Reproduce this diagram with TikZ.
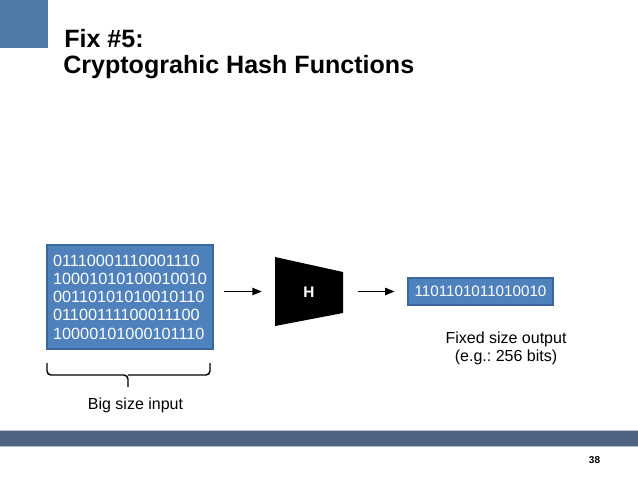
\documentclass[tikz,border=0pt]{standalone}
\usepackage{fontspec}
\setmainfont{Liberation Sans}
\frenchspacing
\usetikzlibrary{arrows.meta}
\definecolor{accent}{HTML}{4F7AA8}
\definecolor{boxblue}{HTML}{4F81BD}
\definecolor{boxedge}{HTML}{3C679A}
\definecolor{band}{HTML}{4E6482}
\definecolor{bandedge}{HTML}{B4BFCD}
\tikzset{
  bitbox/.style={draw=boxedge, line width=0.8pt, fill=boxblue, text=white, font=\fontsize{12.2}{13.7}\selectfont},
  plain/.style={font=\fontsize{12}{13.4}\selectfont, align=center, inner sep=0pt},
  titletext/.style={font=\fontsize{18.8}{22}\selectfont\bfseries, anchor=base west, inner sep=0pt},
  arr/.style={-{Triangle[length=7pt,width=5.5pt]}, line width=1.1pt},
}
\begin{document}
\begin{tikzpicture}[x=0.75pt, y=-0.75pt]
\useasboundingbox (0,0) rectangle (638,479);
\fill[white] (0,0) rectangle (638,479);
% corner square
\fill[accent] (0,0) rectangle (48,48);
% title
\node[titletext] (t1) at (64,47) {Fix \#5:};
\node[titletext] (t2) at (63,73) {Cryptograhic Hash Functions};
% input box
\node[bitbox, minimum width=166*0.75pt, minimum height=104*0.75pt, align=left, inner sep=0pt] (in) at (130,297) {01110001110001110\\10001010100010010\\00110101010010110\\01100111100011100\\10000101000101110};
% brace
\draw[line width=1.1pt, rounded corners=3pt] (47,363) -- (47,375) -- (128,375) -- (128,387);
\draw[line width=1.1pt, rounded corners=3pt] (210,363) -- (210,375) -- (128,375);
\node[plain] (big) at (135.5,405) {Big size input};
% hash function
\node[minimum width=68*0.75pt, minimum height=69*0.75pt, inner sep=0pt] (hash) at (309,291.5) {};
\fill[black] (275,257) -- (343,272) -- (343,313) -- (275,326) -- cycle;
\node[text=white, font=\fontsize{11.5}{13}\selectfont\bfseries] (hl) at (309,292) {H};
% output box
\node[bitbox, minimum width=145*0.75pt, minimum height=27*0.75pt, inner sep=0pt, font=\fontsize{11.4}{13}\selectfont] (out) at (480.5,291.5) {1101101011010010};
\node[plain] (fixed) at (506,348) {Fixed size output\\(e.g.: 256 bits)};
% arrows
\draw[arr, shorten <=7.5pt, shorten >=9.75pt] (in.east |- hash.west) -- (hash.west);
\draw[arr, shorten <=11.25pt, shorten >=9.75pt] (hash.east) -- (out.west);
% bottom band
\fill[bandedge] (0,430) rectangle (638,447);
\fill[band] (0,431.2) rectangle (638,445.8);
\node[font=\fontsize{7.5}{9}\selectfont\bfseries] (pg) at (594.5,460) {38};
\end{tikzpicture}
\end{document}
